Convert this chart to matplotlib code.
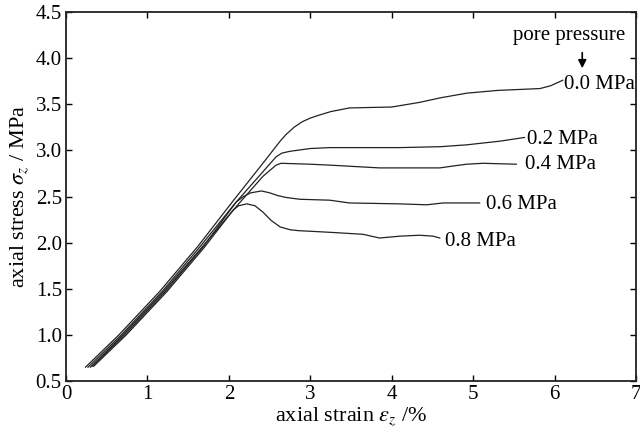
import matplotlib
matplotlib.use("Agg")
import matplotlib.pyplot as plt

plt.rcParams['font.family'] = 'Liberation Serif'
plt.rcParams['mathtext.fontset'] = 'stix'

# axial strain (%) / axial stress (MPa) for each pore pressure
strain_00 = [0.24, 0.65, 1.15, 1.62, 2.05, 2.40, 2.63, 2.70, 2.80, 2.90, 3.00, 3.10, 3.25, 3.48, 4.00, 4.34, 4.60, 4.92, 5.30, 5.82, 5.95, 6.10]
stress_00 = [0.65, 1.00, 1.47, 1.96, 2.45, 2.84, 3.10, 3.17, 3.25, 3.31, 3.35, 3.38, 3.42, 3.46, 3.47, 3.52, 3.57, 3.62, 3.65, 3.67, 3.70, 3.76]

strain_02 = [0.27, 0.68, 1.18, 1.65, 2.08, 2.40, 2.58, 2.65, 2.75, 3.00, 3.24, 4.10, 4.60, 4.92, 5.33, 5.63]
stress_02 = [0.65, 1.00, 1.47, 1.96, 2.43, 2.75, 2.93, 2.97, 2.99, 3.02, 3.03, 3.03, 3.04, 3.06, 3.10, 3.14]

strain_04 = [0.30, 0.70, 1.20, 1.67, 2.10, 2.42, 2.58, 2.64, 3.00, 3.24, 3.85, 4.10, 4.59, 4.75, 4.92, 5.12, 5.53]
stress_04 = [0.65, 1.00, 1.47, 1.95, 2.40, 2.72, 2.84, 2.86, 2.85, 2.84, 2.81, 2.81, 2.81, 2.83, 2.85, 2.86, 2.85]

strain_06 = [0.32, 0.72, 1.22, 1.68, 2.09, 2.18, 2.27, 2.40, 2.50, 2.60, 2.70, 2.87, 3.24, 3.48, 4.10, 4.43, 4.63, 5.08]
stress_06 = [0.66, 1.00, 1.47, 1.95, 2.44, 2.50, 2.54, 2.56, 2.54, 2.51, 2.49, 2.47, 2.46, 2.43, 2.42, 2.41, 2.43, 2.43]

strain_08 = [0.34, 0.74, 1.24, 1.70, 2.05, 2.12, 2.22, 2.32, 2.42, 2.52, 2.63, 2.75, 2.85, 3.28, 3.65, 3.85, 4.10, 4.34, 4.51, 4.59]
stress_08 = [0.66, 1.00, 1.47, 1.95, 2.35, 2.40, 2.42, 2.40, 2.33, 2.24, 2.17, 2.14, 2.13, 2.11, 2.09, 2.05, 2.07, 2.08, 2.07, 2.05]

labels = ['0.0 MPa', '0.2 MPa', '0.4 MPa', '0.6 MPa', '0.8 MPa']
# label anchor (strain, stress) for each curve label
label_pos = [(6.11, 3.71), (5.66, 3.12), (5.64, 2.85), (5.16, 2.41), (4.66, 2.01)]

curves = [(strain_00, stress_00), (strain_02, stress_02), (strain_04, stress_04),
          (strain_06, stress_06), (strain_08, stress_08)]

fig = plt.figure(figsize=(6.4, 4.32), dpi=100)
ax = fig.add_axes([66/640, 51/432, 570/640, 369/432])

for (x, y), lab, (lx, ly) in zip(curves, labels, label_pos):
    ax.plot(x, y, color='#222222', lw=0.9)
    ax.text(lx, ly, lab, fontsize=15, ha='left', va='center')

ax.text(6.18, 4.24, 'pore pressure', fontsize=15, ha='center', va='center')
ax.annotate('', xy=(6.34, 3.86), xytext=(6.34, 4.09),
            arrowprops=dict(arrowstyle='-|>', color='black', lw=1.2, mutation_scale=12))

ax.set_xlim(0, 7)
ax.set_ylim(0.5, 4.5)
ax.set_xticks(range(0, 8))
ax.set_yticks([0.5, 1.0, 1.5, 2.0, 2.5, 3.0, 3.5, 4.0, 4.5])
ax.set_yticklabels(['0.5', '1.0', '1.5', '2.0', '2.5', '3.0', '3.5', '4.0', '4.5'])
ax.tick_params(direction='in', length=4, width=1, top=True, right=True,
               labelsize=15, pad=3)
for s in ax.spines.values():
    s.set_linewidth(1.3)
    s.set_color('#222222')

ax.set_xlabel(r'axial strain $\varepsilon_z$ /%', fontsize=16, labelpad=1)
ax.set_ylabel(r'axial stress $\sigma_z$ / MPa', fontsize=16, labelpad=3)

fig.savefig('out.png', dpi=100)
